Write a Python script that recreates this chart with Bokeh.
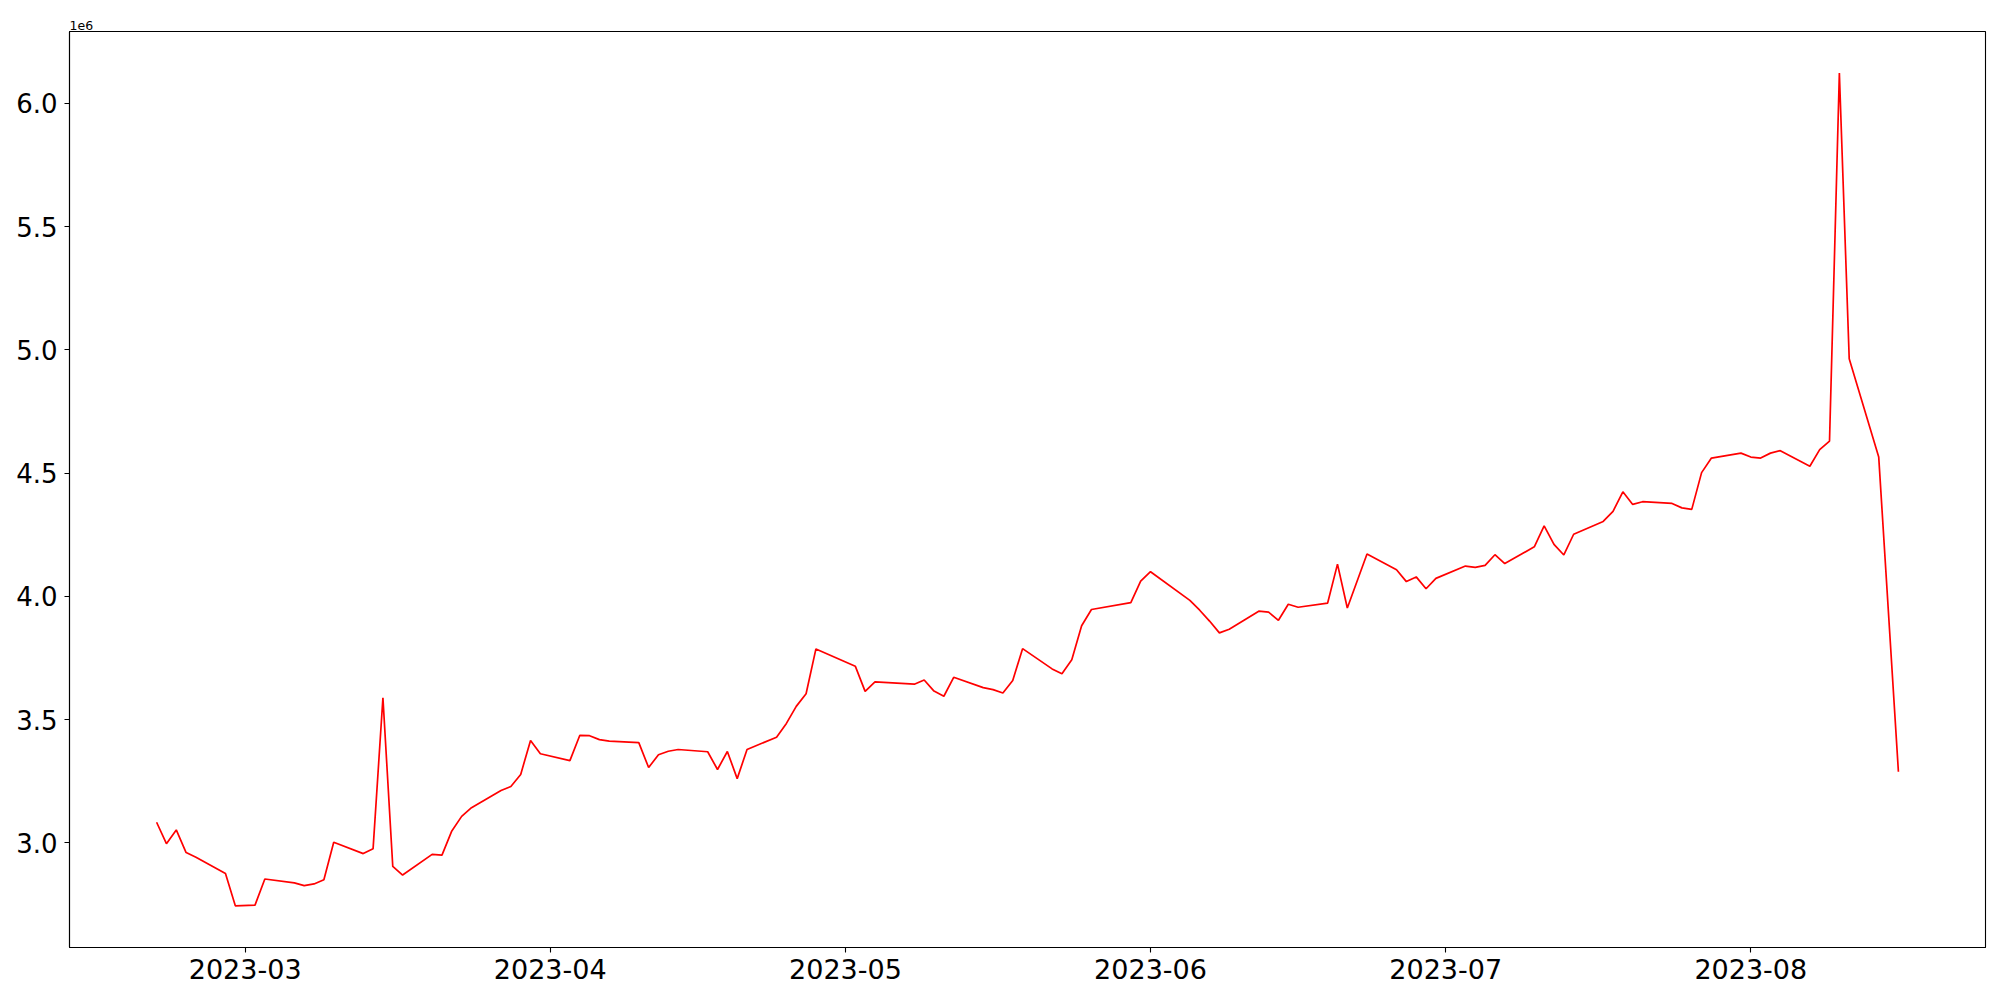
import pandas as pd
from bokeh.plotting import figure
from bokeh.models import Range1d, FixedTicker, ColumnDataSource
from bokeh.embed import file_html
from bokeh.resources import INLINE

dates = [
    "2023-02-20", "2023-02-21", "2023-02-22", "2023-02-23", "2023-02-24",
    "2023-02-27", "2023-02-28", "2023-03-02", "2023-03-03", "2023-03-06",
    "2023-03-07", "2023-03-08", "2023-03-09", "2023-03-10", "2023-03-13",
    "2023-03-14", "2023-03-15", "2023-03-16", "2023-03-17", "2023-03-20",
    "2023-03-21", "2023-03-22", "2023-03-23", "2023-03-24", "2023-03-27",
    "2023-03-28", "2023-03-29", "2023-03-30", "2023-03-31", "2023-04-03",
    "2023-04-04", "2023-04-05", "2023-04-06", "2023-04-07", "2023-04-10",
    "2023-04-11", "2023-04-12", "2023-04-13", "2023-04-14", "2023-04-17",
    "2023-04-18", "2023-04-19", "2023-04-20", "2023-04-21", "2023-04-24",
    "2023-04-25", "2023-04-26", "2023-04-27", "2023-04-28", "2023-05-02",
    "2023-05-03", "2023-05-04", "2023-05-08", "2023-05-09", "2023-05-10",
    "2023-05-11", "2023-05-12", "2023-05-15", "2023-05-16", "2023-05-17",
    "2023-05-18", "2023-05-19", "2023-05-22", "2023-05-23", "2023-05-24",
    "2023-05-25", "2023-05-26", "2023-05-30", "2023-05-31", "2023-06-01",
    "2023-06-05", "2023-06-06", "2023-06-07", "2023-06-08", "2023-06-09",
    "2023-06-12", "2023-06-13", "2023-06-14", "2023-06-15", "2023-06-16",
    "2023-06-19", "2023-06-20", "2023-06-21", "2023-06-23", "2023-06-26",
    "2023-06-27", "2023-06-28", "2023-06-29", "2023-06-30", "2023-07-03",
    "2023-07-04", "2023-07-05", "2023-07-06", "2023-07-07", "2023-07-10",
    "2023-07-11", "2023-07-12", "2023-07-13", "2023-07-14", "2023-07-17",
    "2023-07-18", "2023-07-19", "2023-07-20", "2023-07-21", "2023-07-24",
    "2023-07-25", "2023-07-26", "2023-07-27", "2023-07-28", "2023-07-31",
    "2023-08-01", "2023-08-02", "2023-08-03", "2023-08-04", "2023-08-07",
    "2023-08-08", "2023-08-09", "2023-08-10", "2023-08-11", "2023-08-14",
    "2023-08-16",
]

values = [
    3084000, 2997000, 3053000, 2961000, 2942000,
    2876000, 2745000, 2748000, 2854000, 2838000,
    2827000, 2834000, 2851000, 3003000, 2957000,
    2977000, 3589000, 2905000, 2870000, 2954000,
    2951000, 3049000, 3108000, 3143000, 3213000,
    3229000, 3278000, 3416000, 3362000, 3334000,
    3436000, 3435000, 3419000, 3413000, 3407000,
    3306000, 3358000, 3372000, 3379000, 3370000,
    3298000, 3371000, 3261000, 3379000, 3429000,
    3485000, 3554000, 3605000, 3787000, 3717000,
    3615000, 3653000, 3644000, 3661000, 3616000,
    3595000, 3672000, 3630000, 3622000, 3608000,
    3659000, 3788000, 3706000, 3686000, 3743000,
    3881000, 3947000, 3975000, 4062000, 4100000,
    3984000, 3944000, 3900000, 3852000, 3867000,
    3940000, 3936000, 3903000, 3968000, 3956000,
    3973000, 4131000, 3953000, 4172000, 4108000,
    4060000, 4079000, 4031000, 4073000, 4123000,
    4118000, 4126000, 4169000, 4133000, 4201000,
    4286000, 4211000, 4168000, 4252000, 4304000,
    4345000, 4424000, 4373000, 4384000, 4377000,
    4359000, 4353000, 4502000, 4561000, 4581000,
    4565000, 4561000, 4581000, 4591000, 4528000,
    4595000, 4630000, 6122000, 4964000, 4565000,
    3289000,
]

x_tick_dates = ["2023-03-01", "2023-04-01", "2023-05-01", "2023-06-01", "2023-07-01", "2023-08-01"]
x_tick_labels = ["2023-03", "2023-04", "2023-05", "2023-06", "2023-07", "2023-08"]
y_ticks = [3.0e6, 3.5e6, 4.0e6, 4.5e6, 5.0e6, 5.5e6, 6.0e6]
y_tick_labels = ["3.0", "3.5", "4.0", "4.5", "5.0", "5.5", "6.0"]
offset_text = "1e6"


def to_ms(s):
    return pd.Timestamp(s).timestamp() * 1000.0


xs = [to_ms(d) for d in dates]
src = ColumnDataSource(data=dict(x=xs, y=values))

x_min, x_max = min(xs), max(xs)
x_pad = 0.05 * (x_max - x_min)
y_min, y_max = min(values), max(values)
y_pad = 0.05 * (y_max - y_min)

FONT = "DejaVu Sans"

p = figure(
    width=1992, height=992,
    x_axis_type="datetime",
    x_range=Range1d(x_min - x_pad, x_max + x_pad),
    y_range=Range1d(y_min - y_pad, y_max + y_pad),
    output_backend="svg", toolbar_location=None,
)
p.min_border_left = 69
p.min_border_right = 7
p.min_border_top = 31
p.min_border_bottom = 45
p.background_fill_color = "white"
p.border_fill_color = "white"
p.outline_line_color = "black"
p.outline_line_width = 1.1
p.xgrid.visible = False
p.ygrid.visible = False

p.line("x", "y", source=src, line_color="#ff0000", line_width=1.7)

x_tick_ms = [to_ms(d) for d in x_tick_dates]
p.xaxis.ticker = FixedTicker(ticks=x_tick_ms, minor_ticks=[])
p.xaxis.major_label_overrides = {t: lab for t, lab in zip(x_tick_ms, x_tick_labels)}
p.yaxis.ticker = FixedTicker(ticks=y_ticks, minor_ticks=[])
p.yaxis.major_label_overrides = {t: lab for t, lab in zip(y_ticks, y_tick_labels)}

for ax in (p.xaxis, p.yaxis):
    ax.axis_line_color = "black"
    ax.axis_line_width = 1.1
    ax.major_tick_line_color = "black"
    ax.major_tick_line_width = 1.1
    ax.major_tick_out = 5
    ax.major_tick_in = 0
    ax.minor_tick_line_color = None
    ax.major_label_text_font = FONT
    ax.major_label_text_color = "black"
    ax.major_label_text_font_style = "normal"

p.xaxis.major_label_text_font_size = "27px"
p.yaxis.major_label_text_font_size = "26px"
p.xaxis.major_label_standoff = 6
p.yaxis.major_label_standoff = 7

p.title.text = offset_text
p.title.text_font = FONT
p.title.text_font_size = "12.5px"
p.title.text_font_style = "normal"
p.title.text_color = "black"
p.title.align = "left"
p.title.offset = 0
p.title.standoff = 4

open("out.html", "w").write(file_html(p, INLINE))
